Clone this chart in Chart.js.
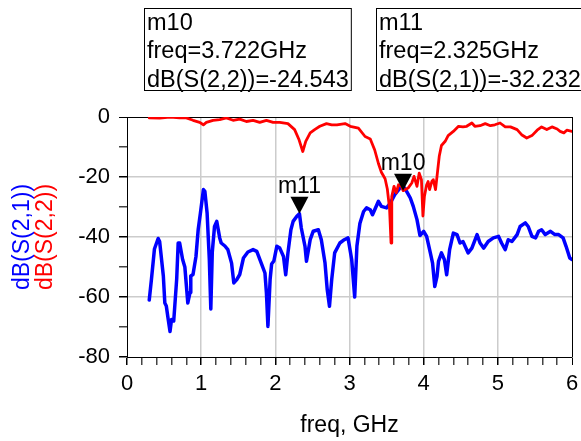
<!DOCTYPE html>
<html>
<head>
<meta charset="utf-8">
<script src="https://cdn.jsdelivr.net/npm/chart.js@4.4.1/dist/chart.umd.min.js"></script>
<style>
  html, body { margin: 0; padding: 0; background: #fff; }
</style>
</head>
<body>
<canvas id="sparams" width="581" height="441"></canvas>
<script>
// ---- trace data: S21 (blue) ----
const s21Freq = [0.30, 0.33, 0.37, 0.42, 0.44, 0.49, 0.51, 0.53, 0.55, 0.58, 0.60, 0.63, 0.67, 0.69, 0.71, 0.75, 0.78, 0.82, 0.85, 0.86,
  0.89, 0.93, 0.96, 0.99, 1.03, 1.05, 1.08, 1.11, 1.13, 1.15, 1.18, 1.21, 1.25, 1.27, 1.32, 1.36, 1.41, 1.44, 1.48, 1.52,
  1.57, 1.63, 1.70, 1.75, 1.81, 1.86, 1.88, 1.90, 1.93, 1.95, 1.98, 2.02, 2.06, 2.11, 2.14, 2.17, 2.21, 2.24, 2.29, 2.325,
  2.35, 2.40, 2.42, 2.47, 2.51, 2.58, 2.62, 2.67, 2.70, 2.73, 2.76, 2.80, 2.87, 2.93, 2.98, 3.03, 3.07, 3.10, 3.14, 3.19,
  3.23, 3.28, 3.31, 3.34, 3.39, 3.43, 3.50, 3.55, 3.61, 3.68, 3.73, 3.77, 3.82, 3.86, 3.91, 3.95, 4.00, 4.04, 4.09, 4.12,
  4.15, 4.18, 4.20, 4.24, 4.28, 4.31, 4.35, 4.40, 4.45, 4.49, 4.53, 4.60, 4.65, 4.72, 4.76, 4.81, 4.87, 4.94, 5.01, 5.05,
  5.10, 5.14, 5.19, 5.26, 5.30, 5.37, 5.41, 5.46, 5.51, 5.55, 5.59, 5.64, 5.71, 5.77, 5.82, 5.88, 5.92, 5.97, 6.00];
const s21Db = [-61, -54, -44, -40.5, -41.5, -53, -62, -63, -66.5, -71.5, -67.5, -68, -54, -42, -42, -47.5, -50, -62, -58.5, -53,
  -52.5, -46.5, -37.5, -32, -24.2, -24.8, -32, -47.5, -64, -45, -36.5, -34.8, -40.3, -42, -43, -44.2, -48.7, -55.3, -54.2, -52.5,
  -47, -45, -44.2, -44.8, -48.7, -52, -58.7, -69.8, -54, -49, -48, -43.1, -43.7, -46.5, -52.6, -45.3, -37.6, -34.8, -33.1, -32.232,
  -37, -43.1, -48.1, -40.9, -38.1, -37.6, -40.9, -48.7, -57.6, -63.1, -54.2, -45.3, -42, -40.9, -40.3, -47.6, -60, -43, -35.5, -31.5,
  -30.3, -30.9, -32.6, -30.9, -28.1, -29.8, -30.3, -28.7, -25.9, -23.7, -23.3, -24.8, -27, -29.8, -34.2, -39.5, -38.1, -39.8, -45.3, -48.7,
  -56.5, -53.1, -48.1, -45.3, -47.6, -52.6, -44.2, -38.7, -39.2, -42, -41.5, -45.3, -43.7, -39.2, -42, -43.7, -41.5, -40.3, -39.8, -42,
  -44.2, -40.9, -41.5, -39.2, -36.5, -35.3, -36.5, -39.8, -40.3, -38.1, -37.6, -39.2, -38.1, -39.2, -39.2, -40.3, -43.1, -47, -47.5];

// ---- trace data: S22 (red) ----
const s22Freq = [0.30, 0.44, 0.58, 0.71, 0.80, 0.89, 0.98, 1.03, 1.07, 1.16, 1.25, 1.34, 1.43, 1.52, 1.61, 1.70, 1.79, 1.88, 1.97, 2.06,
  2.17, 2.26, 2.32, 2.37, 2.41, 2.47, 2.53, 2.60, 2.69, 2.76, 2.83, 2.94, 3.01, 3.12, 3.21, 3.28, 3.34, 3.39, 3.43, 3.48,
  3.51, 3.54, 3.56, 3.57, 3.60, 3.63, 3.66, 3.70, 3.722, 3.79, 3.84, 3.87, 3.91, 3.94, 3.97, 3.99, 4.01, 4.04, 4.06, 4.08,
  4.11, 4.13, 4.16, 4.18, 4.21, 4.24, 4.29, 4.33, 4.40, 4.47, 4.53, 4.58, 4.65, 4.69, 4.76, 4.83, 4.90, 4.96, 5.03, 5.10,
  5.17, 5.26, 5.32, 5.39, 5.46, 5.53, 5.59, 5.66, 5.73, 5.80, 5.84, 5.89, 5.93, 6.00];
const s22Db = [-0.3, -0.4, 0, -0.3, -0.3, -1.1, -1.8, -2.6, -1.8, -1.1, -0.9, -0.3, -1.1, -0.7, -1.5, -1.1, -1.8, -1.1, -1.8, -1.8,
  -2.2, -4.2, -7.6, -11.5, -8.1, -5.3, -4.2, -3.1, -2.2, -2.6, -2.6, -2.2, -3.1, -3.7, -6.5, -7.3, -11, -15.5, -18.4, -20.6,
  -24, -30.5, -42, -26.5, -23.1, -25.3, -22.6, -23.1, -24.543, -23.7, -22, -19.8, -23.1, -18.7, -20.9, -33, -26.5, -22.6, -21.5, -24.2,
  -21.5, -20.9, -24.2, -19.8, -13.1, -9.5, -8.1, -6.2, -4.8, -3.1, -3.3, -3.1, -2, -3.1, -2.9, -2.2, -2.9, -2.6, -2, -3.3,
  -3.3, -4.2, -5.9, -7, -6.2, -4.4, -3.3, -4.2, -3.3, -4, -4.8, -5.3, -4.4, -4.8];

// markers placed on the traces
const markerNames = ['m10', 'm11'];
const markerFreq = [3.722, 2.325];
const markerDb = [-24.543, -32.232];
const markerTrace = ['dB(S(2,2))', 'dB(S(2,1))'];

const FONT = "'Liberation Sans', Arial, sans-serif";

function toPoints(xs, ys) {
    return xs.map((x, i) => ({ x: x, y: ys[i] }));
}
function isWhole(v, step) {
    return Math.abs(v / step - Math.round(v / step)) < 1e-6;
}

// titles, marker triangles and readout boxes
const overlay = {
    id: 'overlay',
    afterDatasetsDraw(chart) {
        const ctx = chart.ctx;
        const xs = chart.scales.x, ys = chart.scales.y;
        ctx.save();
        ctx.fillStyle = '#000';
        ctx.font = '23px ' + FONT;
        ctx.textAlign = 'center';
        ctx.textBaseline = 'alphabetic';
        markerNames.forEach((name, i) => {
            const px = xs.getPixelForValue(markerFreq[i]);
            const py = ys.getPixelForValue(markerDb[i]);
            ctx.beginPath();
            ctx.moveTo(px, py);
            ctx.lineTo(px - 9, py - 17);
            ctx.lineTo(px + 9, py - 17);
            ctx.closePath();
            ctx.fill();
            ctx.fillText(name, px, py - 21);
        });
        ctx.restore();
    },
    afterDraw(chart) {
        const ctx = chart.ctx;
        const area = chart.chartArea;
        ctx.save();
        // axis titles
        const midY = (area.top + area.bottom) / 2;
        ctx.font = '23px ' + FONT;
        ctx.textAlign = 'center';
        ctx.textBaseline = 'middle';
        ctx.fillStyle = '#000';
        ctx.fillText('freq, GHz', (area.left + area.right) / 2, 426);
        ctx.translate(0, midY);
        ctx.rotate(-Math.PI / 2);
        ctx.fillStyle = '#0000ff';
        ctx.fillText('dB(S(2,1))', 0, 23);
        ctx.fillStyle = '#ff0000';
        ctx.fillText('dB(S(2,2))', 0, 46);
        ctx.restore();

        // marker readouts
        ctx.save();
        ctx.font = '23.5px ' + FONT;
        ctx.fillStyle = '#000';
        ctx.strokeStyle = '#000';
        ctx.lineWidth = 1;
        ctx.textAlign = 'left';
        ctx.textBaseline = 'alphabetic';
        const boxX = [144.5, 376.5];
        markerNames.forEach((name, i) => {
            const lines = [name, 'freq=' + markerFreq[i].toFixed(3) + 'GHz',
                markerTrace[i] + '=' + markerDb[i].toFixed(3)];
            const w = ctx.measureText(lines[2]).width + 5;
            ctx.strokeRect(boxX[i], 8.5, w, 82);
            lines.forEach((t, k) => ctx.fillText(t, boxX[i] + 2.5, 29.5 + k * 28.7));
        });
        ctx.restore();
    }
};

const ctx = document.getElementById('sparams').getContext('2d');
new Chart(ctx, {
    type: 'line',
    data: {
        datasets: [
            { label: 'dB(S(2,2))', data: toPoints(s22Freq, s22Db), borderColor: '#ff0000',
              borderWidth: 2.8, borderJoinStyle: 'round', borderCapStyle: 'round',
              pointRadius: 0, tension: 0, order: 1 },
            { label: 'dB(S(2,1))', data: toPoints(s21Freq, s21Db), borderColor: '#0000ff',
              borderWidth: 3.5, borderJoinStyle: 'round', borderCapStyle: 'round',
              pointRadius: 0, tension: 0, order: 2 }
        ]
    },
    options: {
        responsive: false,
        animation: false,
        devicePixelRatio: 1,
        layout: { padding: { top: 117, right: 9, left: 0, bottom: 0 } },
        plugins: { legend: { display: false }, tooltip: { enabled: false } },
        scales: {
            x: {
                type: 'linear', min: 0, max: 6,
                afterFit: s => {
                    s.height = 84;
                    s.paddingLeft = 0;
                    s.paddingRight = 0;
                },
                ticks: {
                    stepSize: 0.2, autoSkip: false, maxRotation: 0, padding: 6,
                    color: '#000', font: { family: FONT, size: 22 },
                    callback: v => isWhole(v, 1) ? String(Math.round(v)) : ''
                },
                grid: {
                    tickLength: 8,
                    color: c => {
                        const v = c.tick.value;
                        if (isWhole(v, 1) && Math.round(v) === 6) return '#000';
                        return isWhole(v, 1) && v > 0.5 ? '#cccccc' : 'rgba(0,0,0,0)';
                    },
                    lineWidth: c => isWhole(c.tick.value, 1) && Math.round(c.tick.value) === 6 ? 1 : 1.5,
                    tickColor: c => isWhole(c.tick.value, 1) ? '#000' : '#444'
                },
                border: { display: true, color: '#000', width: 1 }
            },
            y: {
                type: 'linear', min: -80, max: 0,
                afterFit: s => { s.width = 127; },
                ticks: {
                    stepSize: 10, autoSkip: false, padding: 9,
                    color: '#000', font: { family: FONT, size: 22 },
                    callback: v => isWhole(v, 20) ? String(v) : ''
                },
                grid: {
                    tickLength: 8,
                    color: c => {
                        const v = c.tick.value;
                        if (v === 0) return '#000';
                        return isWhole(v, 20) && v > -79 ? '#cccccc' : 'rgba(0,0,0,0)';
                    },
                    lineWidth: c => c.tick.value === 0 ? 1 : 1.5,
                    tickColor: c => isWhole(c.tick.value, 20) ? '#000' : '#444'
                },
                border: { display: true, color: '#000', width: 1 }
            }
        }
    },
    plugins: [overlay]
});
</script>
</body>
</html>
